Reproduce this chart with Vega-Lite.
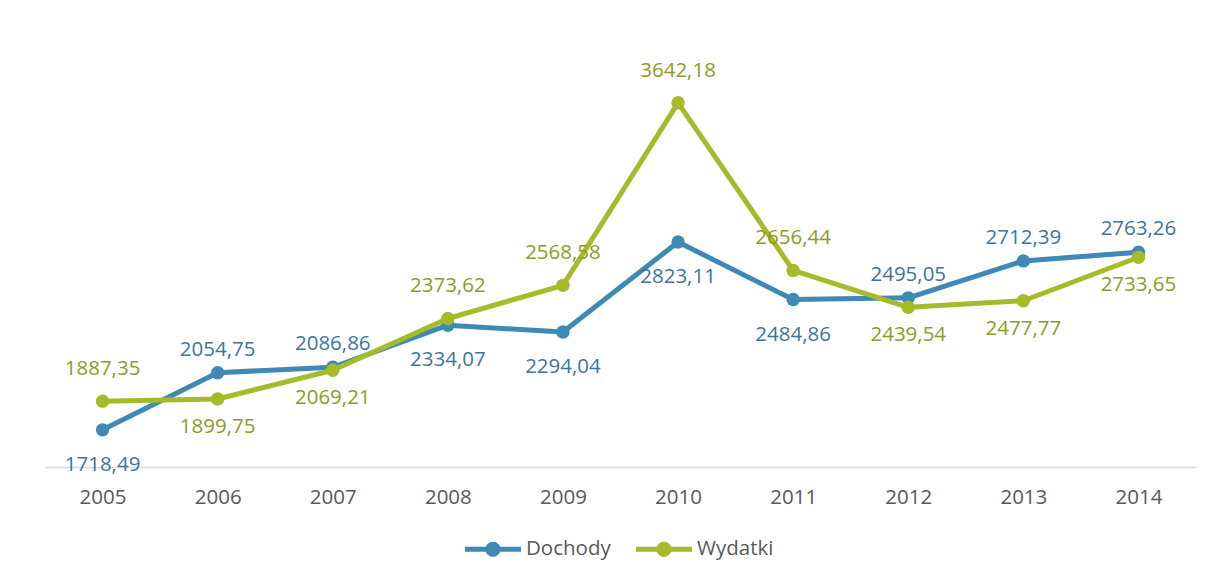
{
  "$schema": "https://vega.github.io/schema/vega-lite/v6.json",
  "width": 1151,
  "height": 425,
  "autosize": {"type": "none"},
  "padding": {"left": 45, "top": 42, "right": 10, "bottom": 113},
  "background": "white",
  "config": {
    "view": {"stroke": null},
    "font": "Open Sans",
    "locale": {"number": {"decimal": ",", "thousands": " ", "grouping": [3], "currency": ["", " zł"]}}
  },
  "data": {"values": [
    {"year": "2005", "series": "Dochody", "value": 1718.49},
    {"year": "2006", "series": "Dochody", "value": 2054.75},
    {"year": "2007", "series": "Dochody", "value": 2086.86},
    {"year": "2008", "series": "Dochody", "value": 2334.07},
    {"year": "2009", "series": "Dochody", "value": 2294.04},
    {"year": "2010", "series": "Dochody", "value": 2823.11},
    {"year": "2011", "series": "Dochody", "value": 2484.86},
    {"year": "2012", "series": "Dochody", "value": 2495.05},
    {"year": "2013", "series": "Dochody", "value": 2712.39},
    {"year": "2014", "series": "Dochody", "value": 2763.26},
    {"year": "2005", "series": "Wydatki", "value": 1887.35},
    {"year": "2006", "series": "Wydatki", "value": 1899.75},
    {"year": "2007", "series": "Wydatki", "value": 2069.21},
    {"year": "2008", "series": "Wydatki", "value": 2373.62},
    {"year": "2009", "series": "Wydatki", "value": 2568.58},
    {"year": "2010", "series": "Wydatki", "value": 3642.18},
    {"year": "2011", "series": "Wydatki", "value": 2656.44},
    {"year": "2012", "series": "Wydatki", "value": 2439.54},
    {"year": "2013", "series": "Wydatki", "value": 2477.77},
    {"year": "2014", "series": "Wydatki", "value": 2733.65}
  ]},
  "encoding": {
    "x": {
      "field": "year", "type": "ordinal",
      "scale": {"type": "point", "padding": 0.5},
      "axis": {"title": null, "labelAngle": 0, "ticks": false, "domainColor": "#D9D9D9", "domainWidth": 1.5,
               "labelFontSize": 20.5, "labelColor": "#595959", "labelPadding": 20, "labelFont": "Open Sans"}
    },
    "y": {
      "field": "value", "type": "quantitative",
      "scale": {"domain": [1500, 4000], "nice": false, "zero": false},
      "axis": null
    }
  },
  "layer": [
    {
      "transform": [{"filter": "datum.series == 'Dochody'"}],
      "mark": {"type": "line", "strokeWidth": 5, "strokeCap": "round", "strokeJoin": "round"},
      "encoding": {
        "color": {"field": "series", "type": "nominal",
          "scale": {"domain": ["Dochody", "Wydatki"], "range": ["#3F8AB4", "#A7BA2A"]},
          "legend": {"title": null, "orient": "none", "legendX": 420, "legendY": 479, "direction": "horizontal",
            "symbolType": "M-1,-0.09H1V0.09H-1Z M0.27,0A0.27,0.27 0 1 1 -0.27,0A0.27,0.27 0 1 1 0.27,0Z",
            "symbolSize": 3136, "symbolStrokeWidth": 0, "labelFontSize": 20.5, "labelColor": "#595959",
            "labelFont": "Open Sans", "labelOffset": 5, "columnPadding": 25}}
      }
    },
    {
      "transform": [{"filter": "datum.series == 'Dochody'"}],
      "mark": {"type": "point", "filled": true, "opacity": 1, "size": 180},
      "encoding": {"color": {"field": "series", "type": "nominal"}}
    },
    {
      "transform": [{"filter": "datum.series == 'Wydatki'"}],
      "mark": {"type": "line", "strokeWidth": 5, "strokeCap": "round", "strokeJoin": "round"},
      "encoding": {"color": {"field": "series", "type": "nominal"}}
    },
    {
      "transform": [{"filter": "datum.series == 'Wydatki'"}],
      "mark": {"type": "point", "filled": true, "opacity": 1, "size": 180},
      "encoding": {"color": {"field": "series", "type": "nominal"}}
    },
    {
      "transform": [{"filter": "datum.series == 'Dochody' && indexof(['2006','2007','2012','2013','2014'], datum.year) >= 0"}],
      "mark": {"type": "text", "dy": -23, "fontSize": 20.5, "font": "Open Sans", "color": "#3E7697"},
      "encoding": {"text": {"field": "value", "type": "quantitative", "format": ".2f"}}
    },
    {
      "transform": [{"filter": "datum.series == 'Dochody' && indexof(['2006','2007','2012','2013','2014'], datum.year) < 0"}],
      "mark": {"type": "text", "dy": 35, "fontSize": 20.5, "font": "Open Sans", "color": "#3E7697"},
      "encoding": {"text": {"field": "value", "type": "quantitative", "format": ".2f"}}
    },
    {
      "transform": [{"filter": "datum.series == 'Wydatki' && indexof(['2005','2008','2009','2010','2011'], datum.year) >= 0"}],
      "mark": {"type": "text", "dy": -32, "fontSize": 20.5, "font": "Open Sans", "color": "#8E9B26"},
      "encoding": {"text": {"field": "value", "type": "quantitative", "format": ".2f"}}
    },
    {
      "transform": [{"filter": "datum.series == 'Wydatki' && indexof(['2005','2008','2009','2010','2011'], datum.year) < 0"}],
      "mark": {"type": "text", "dy": 28, "fontSize": 20.5, "font": "Open Sans", "color": "#8E9B26"},
      "encoding": {"text": {"field": "value", "type": "quantitative", "format": ".2f"}}
    }
  ]
}
